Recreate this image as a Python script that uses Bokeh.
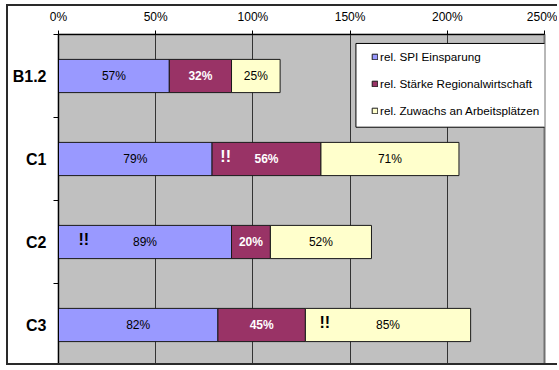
from bokeh.plotting import figure
from bokeh.models import (ColumnDataSource, FixedTicker, PrintfTickFormatter,
                          Legend, LegendItem, BoxAnnotation, Range1d)
from bokeh.core.properties import value
from bokeh.embed import file_html
from bokeh.resources import INLINE

# --- data -------------------------------------------------------------
categories = ["B1.2", "C1", "C2", "C3"]
spi_einsparung = [57, 79, 89, 82]
staerke_regionalwirtschaft = [32, 56, 20, 45]
zuwachs_arbeitsplaetze = [25, 71, 52, 85]
series_names = ["rel. SPI Einsparung",
                "rel. Stärke Regionalwirtschaft",
                "rel. Zuwachs an Arbeitsplätzen"]
x_ticks = [0, 50, 100, 150, 200, 250]

# "!!" markers: category and position on the percent axis
flag_categories = ["C1", "C2", "C3"]
flag_positions = [86, 13, 137]

# --- styling ----------------------------------------------------------
FONT = "Liberation Sans"
colors = ["#9999FF", "#993366", "#FFFFCC"]
label_colors = ["black", "white", "black"]
label_styles = ["normal", "bold", "normal"]
flag_colors = ["white", "black", "black"]

n = len(categories)
ypos = [n - i - 0.5 for i in range(n)]
series = [spi_einsparung, staerke_regionalwirtschaft, zuwachs_arbeitsplaetze]
keys = ["spi", "staerke", "zuwachs"]

source = ColumnDataSource(dict(cat=categories, y=ypos,
                               **{k: v for k, v in zip(keys, series)}))

p = figure(width=551, height=361, x_axis_location="above",
           x_range=Range1d(0, 250), y_range=Range1d(0, n),
           output_backend="svg", toolbar_location=None,
           min_border_left=50, min_border_top=27,
           min_border_right=15, min_border_bottom=1,
           styles={"margin-left": "6px", "margin-top": "4px",
                   "border-left": "2px solid #2a2a2a",
                   "border-top": "2px solid #2a2a2a",
                   "border-bottom": "2px solid #2a2a2a"})

p.background_fill_color = "#C0C0C0"
p.border_fill_color = "white"
p.outline_line_color = "#707070"
p.outline_line_width = 2

bars = p.hbar_stack(keys, y="y", height=0.4, fill_color=colors,
                    line_color="#1a1a1a", line_width=1, source=source)

# segment labels at the middle of each stacked segment
left = [0] * n
for vals, col, style in zip(series, label_colors, label_styles):
    centers = [l + v / 2 for l, v in zip(left, vals)]
    p.text(x=centers, y=ypos, text=[f"{v}%" for v in vals],
           text_font=value(FONT), text_font_size="12px",
           text_font_style=style, text_color=col,
           text_align="center", text_baseline="middle")
    left = [l + v for l, v in zip(left, vals)]

flag_y = [ypos[categories.index(c)] + 0.03 for c in flag_categories]
p.text(x=flag_positions, y=flag_y, text=["!!"] * len(flag_positions),
       text_font=value(FONT), text_font_size="16px", text_font_style="bold",
       text_color=flag_colors, text_align="center", text_baseline="middle")

# axes
xa = p.xaxis[0]
xa.ticker = FixedTicker(ticks=x_ticks)
xa.formatter = PrintfTickFormatter(format="%d%%")
xa.major_tick_out = 4
xa.major_tick_in = 0
xa.minor_tick_out = 0
xa.axis_line_color = "black"
xa.major_tick_line_color = "black"
xa.major_label_text_font = FONT
xa.major_label_text_font_size = "12px"
xa.major_label_text_color = "black"
xa.major_label_standoff = 7

ya = p.yaxis[0]
ya.ticker = FixedTicker(ticks=ypos, minor_ticks=list(range(n + 1)))
ya.major_label_overrides = {y: c for y, c in zip(ypos, categories)}
ya.major_tick_out = 0
ya.major_tick_in = 0
ya.minor_tick_out = 5
ya.minor_tick_in = 0
ya.minor_tick_line_color = "black"
ya.axis_line_color = "black"
ya.major_label_text_font = FONT
ya.major_label_text_font_size = "16px"
ya.major_label_text_font_style = "bold"
ya.major_label_text_color = "black"
ya.major_label_standoff = 7

p.xgrid.ticker = FixedTicker(ticks=x_ticks)
p.xgrid.grid_line_color = "#333333"
p.xgrid.grid_line_width = 1
p.ygrid.grid_line_color = None

# legend box and entries
box = BoxAnnotation(left=153, right=251, top=3.892, bottom=2.883,
                    fill_color="white", fill_alpha=1,
                    line_color="black", line_width=1, line_alpha=1)
p.add_layout(box)

legend = Legend(items=[LegendItem(label=name, renderers=[r])
                       for name, r in zip(series_names, bars)],
                location=(313, 246), orientation="vertical",
                glyph_width=7, glyph_height=7, label_standoff=2,
                spacing=7, padding=0, margin=0, label_height=20,
                label_text_font=FONT, label_text_font_size="11.7px",
                label_text_color="black",
                background_fill_alpha=0, border_line_alpha=0)
p.add_layout(legend, "center")

open("out.html", "w").write(file_html(p, INLINE))
